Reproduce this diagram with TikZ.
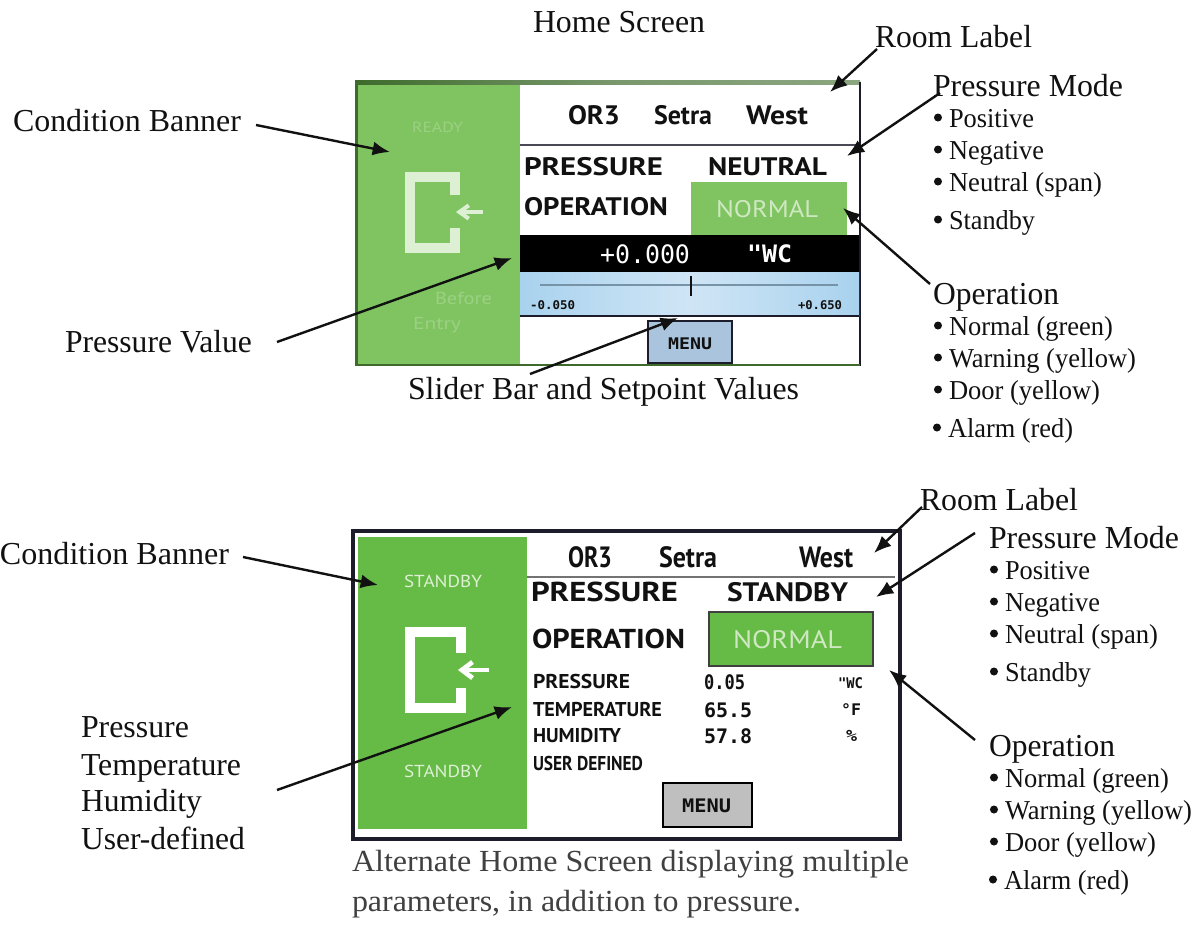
\documentclass[tikz,border=0pt]{standalone}
\usepackage{fontspec}
\usepackage{graphicx}
\usetikzlibrary{arrows.meta}
\setmainfont{Liberation Serif}
\newfontfamily\scrnf{PT Sans}
\newfontfamily\monof{DejaVu Sans Mono}
\newsavebox{\wtbox}
\newcommand{\wt}[2]{\sbox{\wtbox}{#2}\pgfmathsetmacro{\wtf}{#1*0.75/\the\wd\wtbox}\scalebox{\wtf}[1]{\usebox{\wtbox}}}
% name, x, y, width(px), size(pt), colour, text  -- baseline positioned
\newcommand{\tx}[7]{\node[txt,text=#6] (#1) at (#2,#3) {\wt{#4}{\fontsize{#5}{#5}\selectfont #7}};}
% same, vertically centred on y
\newcommand{\cx}[7]{\node[txtc,text=#6] (#1) at (#2,#3) {\wt{#4}{\fontsize{#5}{#5}\selectfont #7}};}
% bullet item: name, x, y, word width(px), word
\newcommand{\bt}[5]{\fill[ink] ({#2+5},{#3-9.5}) circle [radius=4];\node[txt,text=ink] (#1) at (#2,#3) {\makebox[12pt][l]{\fontsize{21}{21}\selectfont •}\wt{#4}{\fontsize{20.5}{20.5}\selectfont #5}};}
\definecolor{ink}{HTML}{111111}
\definecolor{capt}{HTML}{404040}
\definecolor{bannerA}{HTML}{80C462}
\definecolor{bannerB}{HTML}{66BB46}
\definecolor{faintA}{HTML}{9CD183}
\definecolor{faintB}{HTML}{DDF0D3}
\definecolor{normalA}{HTML}{CFE8C2}
\definecolor{scr}{HTML}{1C1C2A}
\definecolor{barblueL}{HTML}{A9D2EE}
\definecolor{barblueM}{HTML}{CFE5F5}
\definecolor{menuA}{HTML}{A9C4DC}
\definecolor{darkgreen}{HTML}{3E6B2C}
\tikzset{
  txt/.style={anchor=base west,inner sep=0pt,outer sep=0pt},
  txtc/.style={anchor=west,inner sep=0pt,outer sep=0pt},
  callout/.style={draw=ink,line width=1.8pt,-{Latex[length=13pt,width=10.5pt]}},
}
\begin{document}
\begin{tikzpicture}[x=0.75pt,y=-0.75pt]
\useasboundingbox (0,0) rectangle (1204,943);
\fill[white] (0,0) rectangle (1204,943);

% ---------- first screen ----------
\fill[white] (356,80) rectangle (860,366);
\fill[bannerA] (356,80) rectangle (520,366);
\shade[left color=darkgreen,right color=darkgreen!60!white,middle color=darkgreen!70!white] (356,80) rectangle (860,84);
\draw[scr,line width=1.5pt] (859.5,82) -- (859.5,366);
\draw[darkgreen,line width=1.6pt] (356.5,80) -- (356.5,365) -- (860,365);
\draw[scr!80!white,line width=1pt] (520,145) -- (859,145);
\fill[bannerA] (691,182) rectangle (847,235);
\fill[black] (520,235) rectangle (859,272);
\shade[left color=barblueL,right color=barblueL,middle color=barblueM] (520,272) rectangle (859,316);
\draw[scr,line width=0.8pt] (520,316) -- (859,316);
\draw[barblueL!70!black,line width=0.8pt] (540,285) -- (838,285);
\draw[ink,line width=1.5pt] (691,276) -- (691,296);
\draw[scr,line width=1.5pt,fill=menuA] (648,321) rectangle (732,363);
% door icon
\draw[faintB,line width=7.5pt] (455,195) -- (455,177) -- (410,177) -- (410,248) -- (455,248) -- (455,228);
\draw[faintB,line width=3pt,-{Straight Barb[length=7pt,width=10pt]}] (483,212) -- (456,212);

\cx{a}{568}{115}{52}{20}{ink}{\scrnf\bfseries OR3}
\cx{b}{654}{115}{58}{20}{ink}{\scrnf\bfseries Setra}
\cx{c}{746}{115}{62}{20}{ink}{\scrnf\bfseries West}
\cx{d}{524}{167}{139}{19}{ink}{\scrnf\bfseries PRESSURE}
\cx{e}{708}{167}{119}{19}{ink}{\scrnf\bfseries NEUTRAL}
\cx{f}{524}{207}{144}{19}{ink}{\scrnf\bfseries OPERATION}
\cx{g}{716}{209}{102}{18}{normalA}{\scrnf NORMAL}
\cx{h}{600}{254}{90}{19}{white}{\monof +0.000}
\cx{i}{747}{254}{45}{18}{white}{\monof\bfseries "WC}
\cx{j}{530}{305}{45}{9}{ink}{\monof\bfseries -0.050}
\cx{k}{798}{305}{44}{9}{ink}{\monof\bfseries +0.650}
\cx{l}{668}{344}{44}{12}{ink}{\monof\bfseries MENU}
\cx{m}{412}{127}{51}{11}{faintA}{\scrnf READY}
\cx{n}{435}{298}{57}{13}{faintA}{\scrnf Before}
\cx{o}{413}{325}{48}{13}{faintA}{\scrnf Entry}

% ---------- first screen labels ----------
\tx{homescr}{533}{32}{172}{24}{ink}{Home Screen}
\tx{room1}{875}{47}{157}{24}{ink}{Room Label}
\tx{mode1}{933}{96}{190}{24}{ink}{Pressure Mode}
\bt{p1}{933}{127}{85}{Positive}
\bt{p2}{933}{159}{95}{Negative}
\bt{p3}{933}{191}{153}{Neutral (span)}
\bt{p4}{933}{229}{86}{Standby}
\tx{oper1}{933}{304}{126}{24}{ink}{Operation}
\bt{q1}{933}{335}{164}{Normal (green)}
\bt{q2}{933}{367}{187}{Warning (yellow)}
\bt{q3}{933}{399}{151}{Door (yellow)}
\bt{q4}{932}{437}{125}{Alarm (red)}
\tx{cond1}{13}{131}{228}{24}{ink}{Condition Banner}
\tx{pval}{65}{352}{187}{24}{ink}{Pressure Value}
\tx{slider}{408}{399}{391}{24}{ink}{Slider Bar and Setpoint Values}

% ---------- second screen ----------
\fill[white] (352,530) rectangle (901,840);
\draw[scr,line width=2.3pt] (353,531) rectangle (900,839);
\fill[bannerB] (358,537) rectangle (527,829);
\draw[black!55,line width=1.2pt] (527,577) -- (895,577);
\draw[black!75,line width=1.2pt,fill=bannerB] (709,612) rectangle (873,666);
\draw[black,line width=1.4pt,fill=black!25] (663,783) rectangle (752,827);
% door icon
\draw[white,line width=7.5pt] (461,653) -- (461,632) -- (410,632) -- (410,708) -- (461,708) -- (461,688);
\draw[white,line width=3.5pt,-{Straight Barb[length=8pt,width=12pt]}] (489,670) -- (458,670);

\cx{r}{568}{557}{44}{22}{ink}{\scrnf\bfseries OR3}
\cx{s}{659}{557}{58}{22}{ink}{\scrnf\bfseries Setra}
\cx{t}{799}{557}{54}{22}{ink}{\scrnf\bfseries West}
\cx{u}{531}{592}{147}{20.5}{ink}{\scrnf\bfseries PRESSURE}
\cx{v}{727}{592}{121}{20}{ink}{\scrnf\bfseries STANDBY}
\cx{w}{532}{639}{153}{20.5}{ink}{\scrnf\bfseries OPERATION}
\cx{x}{733}{640}{109}{19}{normalA}{\scrnf NORMAL}
\cx{y}{533}{681}{97}{15}{ink}{\scrnf\bfseries PRESSURE}
\cx{z}{533}{710}{129}{15}{ink}{\scrnf\bfseries TEMPERATURE}
\cx{aa}{533}{736}{88}{15}{ink}{\scrnf\bfseries HUMIDITY}
\cx{ab}{533}{763}{110}{15}{ink}{\scrnf\bfseries USER DEFINED}
\cx{ac}{704}{682}{41}{15}{ink}{\monof\bfseries 0.05}
\cx{ad}{704}{710}{48}{15}{ink}{\monof\bfseries 65.5}
\cx{ae}{704}{736}{48}{15}{ink}{\monof\bfseries 57.8}
\cx{af}{838}{683}{25}{11}{ink}{\monof\bfseries "WC}
\cx{ag}{841}{710}{20}{12}{ink}{\monof\bfseries °F}
\cx{ah}{846}{736}{11}{12}{ink}{\monof\bfseries \%}
\cx{ai}{682}{806}{49}{14}{ink}{\monof\bfseries MENU}
\cx{aj}{404}{581}{78}{13}{faintB}{\scrnf STANDBY}
\cx{ak}{404}{771}{78}{13}{faintB}{\scrnf STANDBY}

% ---------- second screen labels ----------
\tx{room2}{920}{510}{158}{24}{ink}{Room Label}
\tx{mode2}{989}{548}{190}{24}{ink}{Pressure Mode}
\bt{p5}{989}{579}{85}{Positive}
\bt{p6}{989}{611}{95}{Negative}
\bt{p7}{989}{643}{153}{Neutral (span)}
\bt{p8}{989}{681}{86}{Standby}
\tx{oper2}{989}{756}{126}{24}{ink}{Operation}
\bt{q5}{989}{787}{164}{Normal (green)}
\bt{q6}{989}{819}{187}{Warning (yellow)}
\bt{q7}{989}{851}{151}{Door (yellow)}
\bt{q8}{988}{889}{125}{Alarm (red)}
\tx{cond2}{0}{564}{229}{24}{ink}{Condition Banner}
\tx{m1}{81}{737}{108}{24}{ink}{Pressure}
\tx{m2}{81}{775}{160}{24}{ink}{Temperature}
\tx{m3}{81}{811}{121}{24}{ink}{Humidity}
\tx{m4}{81}{849}{164}{24}{ink}{User-defined}
\tx{cap1}{352}{871}{557}{23}{capt}{Alternate Home Screen displaying multiple}
\tx{cap2}{352}{911}{449}{23}{capt}{parameters, in addition to pressure.}

% ---------- connector ends ----------
\coordinate (s1) at (256,125);  \coordinate (e1) at (390,152);
\coordinate (s2) at (877,49);   \coordinate (e2) at (830,92);
\coordinate (s3) at (940,93);   \coordinate (e3) at (847,156);
\coordinate (s4) at (930,284);  \coordinate (e4) at (843,208);
\coordinate (s5) at (277,342);  \coordinate (e5) at (512,258);
\coordinate (s6) at (530,374);  \coordinate (e6) at (678,318);
\coordinate (s7) at (243,557);  \coordinate (e7) at (378,585);
\coordinate (s8) at (922,507);  \coordinate (e8) at (874,553);
\coordinate (s9) at (975,533);  \coordinate (e9) at (876,597);
\coordinate (s10) at (975,740); \coordinate (e10) at (889,670);
\coordinate (s11) at (277,790); \coordinate (e11) at (512,707);
\foreach \i in {1,...,11} \draw[callout] (s\i) -- (e\i);
\end{tikzpicture}
\end{document}
